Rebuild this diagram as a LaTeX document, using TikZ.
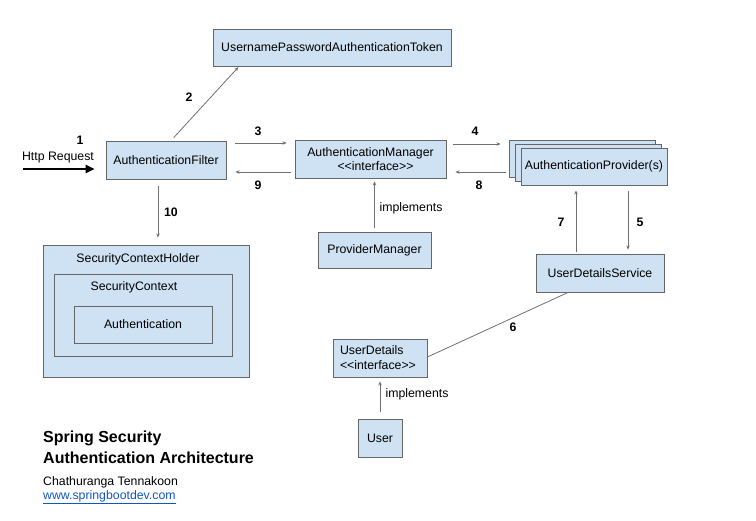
\documentclass[tikz,border=0pt]{standalone}
\usepackage{fontspec}
\setmainfont{Liberation Sans}
\usetikzlibrary{arrows.meta,calc}
\definecolor{boxfill}{HTML}{CFE2F3}
\definecolor{boxdraw}{HTML}{666666}
\definecolor{linegray}{HTML}{707070}
\definecolor{linkblue}{HTML}{1155CC}
\newcommand{\iface}{<{}<interface>{}>}
\begin{document}
\begin{tikzpicture}[x=1pt,y=-1pt,
  every node/.style={font=\fontsize{12.3}{14}\selectfont, inner sep=0pt},
  box/.style={draw=boxdraw, fill=boxfill, line width=0.9pt, rectangle, align=center},
  arr/.style={draw=linegray, line width=0.8pt, -{Stealth[length=4pt,width=3.5pt]}},
  plain/.style={draw=linegray, line width=0.8pt},
  num/.style={font=\fontsize{12.3}{14}\selectfont\bfseries},
  lbl/.style={font=\fontsize{12.3}{14}\selectfont}
]
\useasboundingbox (0,0) rectangle (756,521);
% boxes
\node[box, minimum width=238, minimum height=37] (tok) at (332,47.5) {UsernamePasswordAuthenticationToken};
\node[box, minimum width=120, minimum height=38] (filt) at (166,160) {AuthenticationFilter};
\node[box, minimum width=151, minimum height=38] (mgr) at (370.5,159) {AuthenticationManager\\[0pt]\hspace*{10pt}\iface};
\node[box, minimum width=146, minimum height=37] (provb) at (582,159) {};
\node[box, minimum width=146, minimum height=37] (provm) at (588,163) {};
\node[box, minimum width=146, minimum height=37] (prov) at (594,166.5) {AuthenticationProvider(s)};
\node[box, minimum width=128, minimum height=38] (uds) at (600,273) {UserDetailsService};
\node[box, minimum width=113, minimum height=36] (pm) at (374.5,250) {ProviderManager};
\node[box, minimum width=206, minimum height=132] (sch) at (146,311) {};
\node[lbl] (schl) at (138,259) {SecurityContextHolder};
\node[box, minimum width=178, minimum height=82] (sc) at (143,315) {};
\node[lbl] (scl) at (134,287.5) {SecurityContext};
\node[box, minimum width=138, minimum height=37] (auth) at (143,324.5) {Authentication};
\node[box, minimum width=94, minimum height=38, align=left, text width=80] (ud) at (380,358) {UserDetails\\[1pt]\iface};
\node[box, minimum width=44, minimum height=38] (user) at (380,438) {User};
% http request
\coordinate (hstart) at (23,169);
\draw[line width=2.4pt, -{Triangle[length=9pt,width=8pt]}, shorten >=11pt] (hstart) -- (hstart -| filt.west);
\node[lbl] (http) at (58,158) {Http Request};
\node[num] (n1) at (80,140) {1};
% arrow 2
\draw[arr, shorten <=4pt, shorten >=1pt] ([xshift=5pt]filt.north) -- ([xshift=-93pt]tok.south);
\node[num] (n2) at (189,97) {2};
% arrow 3 / 9
\draw[arr, shorten <=9pt, shorten >=8pt] ([yshift=17pt]filt.east) -- ([yshift=17pt]filt.east -| mgr.west);
\node[num] (n3) at (258,131) {3};
\draw[arr, shorten <=4pt, shorten >=9pt] ([yshift=-13pt]mgr.west) -- ([yshift=-13pt]mgr.west -| filt.east);
\node[num] (n9) at (258,185) {9};
% arrow 4 / 8
\draw[arr, shorten <=7pt, shorten >=8pt] ([yshift=15pt]mgr.east) -- ([yshift=15pt]mgr.east -| provb.west);
\node[num] (n4) at (475,131) {4};
\draw[arr, shorten <=3pt, shorten >=9pt] ([yshift=-13pt]provb.west) -- ([yshift=-13pt]provb.west -| mgr.east);
\node[num] (n8) at (479,185) {8};
% arrow 10
\draw[arr, shorten <=7pt, shorten >=7pt] ([xshift=-8pt]filt.south) -- ([xshift=-8pt]filt.south |- sch.north);
\node[num] (n10) at (171,212) {10};
% implements (manager)
\draw[arr, shorten <=4pt, shorten >=3pt] (pm.north) -- (pm.north |- mgr.south);
\node[lbl] (impl1) at (411,208) {implements};
% arrows 7 / 5
\draw[arr, shorten <=2pt, shorten >=5pt] ([xshift=-24pt]uds.north) -- ([xshift=-24pt]uds.north |- prov.south);
\node[num] (n7) at (561,222) {7};
\draw[arr, shorten <=6pt, shorten >=4pt] ([xshift=28pt]uds.north |- prov.south) -- ([xshift=28pt]uds.north);
\node[num] (n5) at (640,222) {5};
% line 6
\draw[plain] ([xshift=-32pt]uds.south) -- ([yshift=1pt]ud.east);
\node[num] (n6) at (513,327) {6};
% implements (user details)
\draw[arr, shorten <=7pt, shorten >=4pt] (user.north) -- (ud.south);
\node[lbl] (impl2) at (417,394) {implements};
% title
\node[anchor=west, font=\fontsize{16}{20}\selectfont\bfseries] (t1) at (43,438) {Spring Security};
\node[anchor=west, font=\fontsize{16}{20}\selectfont\bfseries] (t2) at (43,458) {Authentication Architecture};
\node[anchor=west, lbl] (auth1) at (43,482) {Chathuranga Tennakoon};
\node[anchor=west, lbl, text=linkblue] (link) at (43,497) {\underline{www.springbootdev.com}};
\end{tikzpicture}
\end{document}
